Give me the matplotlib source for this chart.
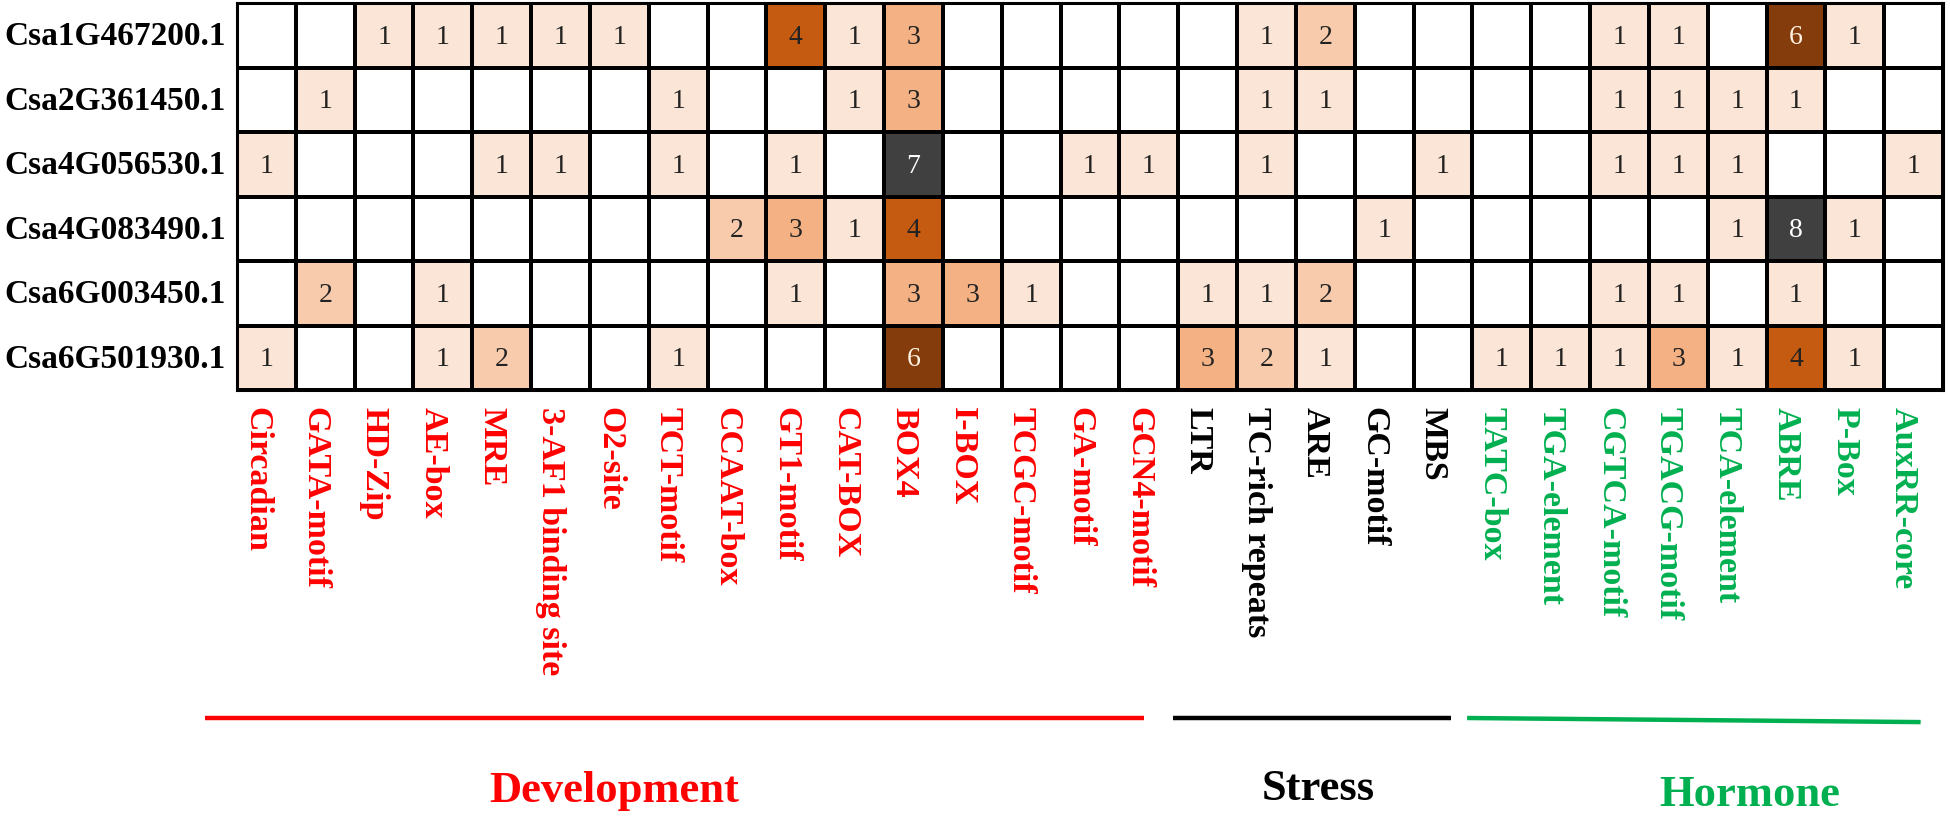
import matplotlib
matplotlib.use("Agg")
import matplotlib.pyplot as plt
import numpy as np
from matplotlib.colors import ListedColormap, BoundaryNorm
from matplotlib.transforms import blended_transform_factory

plt.rcParams["font.family"] = ["Liberation Serif", "DejaVu Serif"]

genes = ["Csa1G467200.1", "Csa2G361450.1", "Csa4G056530.1",
         "Csa4G083490.1", "Csa6G003450.1", "Csa6G501930.1"]

elements = ["Circadian", "GATA-motif", "HD-Zip", "AE-box", "MRE",
            "3-AF1 binding site", "O2-site", "TCT-motif", "CCAAT-box",
            "GT1-motif", "CAT-BOX", "BOX4", "I-BOX", "TCGC-motif",
            "GA-motif", "GCN4-motif",
            "LTR", "TC-rich repeats", "ARE", "GC-motif", "MBS",
            "TATC-box", "TGA-element", "CGTCA-motif", "TGACG-motif",
            "TCA-element", "ABRE", "P-Box", "AuxRR-core"]

# counts of each cis-element per gene (0 = none)
counts = [
    [0, 0, 1, 1, 1, 1, 1, 0, 0, 4, 1, 3, 0, 0, 0, 0, 0, 1, 2, 0, 0, 0, 0, 1, 1, 0, 6, 1, 0],
    [0, 1, 0, 0, 0, 0, 0, 1, 0, 0, 1, 3, 0, 0, 0, 0, 0, 1, 1, 0, 0, 0, 0, 1, 1, 1, 1, 0, 0],
    [1, 0, 0, 0, 1, 1, 0, 1, 0, 1, 0, 7, 0, 0, 1, 1, 0, 1, 0, 0, 1, 0, 0, 1, 1, 1, 0, 0, 1],
    [0, 0, 0, 0, 0, 0, 0, 0, 2, 3, 1, 4, 0, 0, 0, 0, 0, 0, 0, 1, 0, 0, 0, 0, 0, 1, 8, 1, 0],
    [0, 2, 0, 1, 0, 0, 0, 0, 0, 1, 0, 3, 3, 1, 0, 0, 1, 1, 2, 0, 0, 0, 0, 1, 1, 0, 1, 0, 0],
    [1, 0, 0, 1, 2, 0, 0, 1, 0, 0, 0, 6, 0, 0, 0, 0, 3, 2, 1, 0, 0, 1, 1, 1, 3, 1, 4, 1, 0],
]

# (name, first column, last column)
groups = [("Development", 0, 15), ("Stress", 16, 20), ("Hormone", 21, 28)]

# ---- style -------------------------------------------------------------
group_colors = {"Development": "#ff0000", "Stress": "black", "Hormone": "#00b050"}
cell_colors = ["white", "#fbe5d6", "#f8cbad", "#f4b183", "#c55a11",
               "#a34a0e", "#843c0c", "#404040", "#404040"]
light_text = {6: "#fff2e0", 7: "white", 8: "white"}
# hand-drawn underline extents relative to the group's columns
line_pad = {"Development": (-0.54, -0.58, 0.0),
            "Stress": (-0.09, -0.36, 0.0),
            "Hormone": (-0.09, -0.38, -0.005)}
label_x = {"Development": 6.42, "Stress": 18.38, "Hormone": 25.72}
label_base = {"Development": 802, "Stress": 800, "Hormone": 806}  # px from top

data = np.array(counts)
nrow, ncol = data.shape

W, H = 1950, 819
fig = plt.figure(figsize=(W / 100, H / 100), dpi=100)
ax = fig.add_axes([237 / W, 1 - 390 / H, (1943 - 237) / W, (390 - 3) / H])

cmap = ListedColormap(cell_colors)
norm = BoundaryNorm(np.arange(-0.5, len(cell_colors) + 0.5), cmap.N)
ax.pcolormesh(np.arange(ncol + 1), np.arange(nrow + 1), data,
              cmap=cmap, norm=norm, edgecolors="black", linewidth=1.6)
ax.set_xlim(0, ncol)
ax.set_ylim(nrow, 0)
ax.set_xticks([])
ax.set_yticks([])
for s in ax.spines.values():
    s.set_linewidth(2.2)

for i in range(nrow):
    for j in range(ncol):
        v = data[i, j]
        if v:
            ax.text(j + 0.5, i + 0.53, str(v), ha="center", va="center",
                    fontsize=20, color=light_text.get(v, "#222222"))

for i, g in enumerate(genes):
    ax.text(-0.19, i + 0.52, g, ha="right", va="center",
            fontsize=24, fontweight="bold")


def element_color(j):
    for name, a, b in groups:
        if a <= j <= b:
            return group_colors[name]
    return "black"


for j, e in enumerate(elements):
    ax.text(j + 0.33, nrow + 0.27, e, rotation=270, ha="center", va="top",
            fontsize=24.5, fontweight="bold", color=element_color(j))

trans = blended_transform_factory(ax.transData, fig.transFigure)
line_y = 1 - 718 / H
for name, a, b in groups:
    p0, p1, slope = line_pad[name]
    ax.plot([a + p0, b + 1 + p1], [line_y, line_y + slope], transform=trans,
            color=group_colors[name], linewidth=3.2, clip_on=False,
            solid_capstyle="butt")
    ax.text(label_x[name], 1 - label_base[name] / H, name, transform=trans,
            ha="center", va="baseline", fontsize=32, fontweight="bold",
            color=group_colors[name])

fig.savefig("out.png", dpi=100)
